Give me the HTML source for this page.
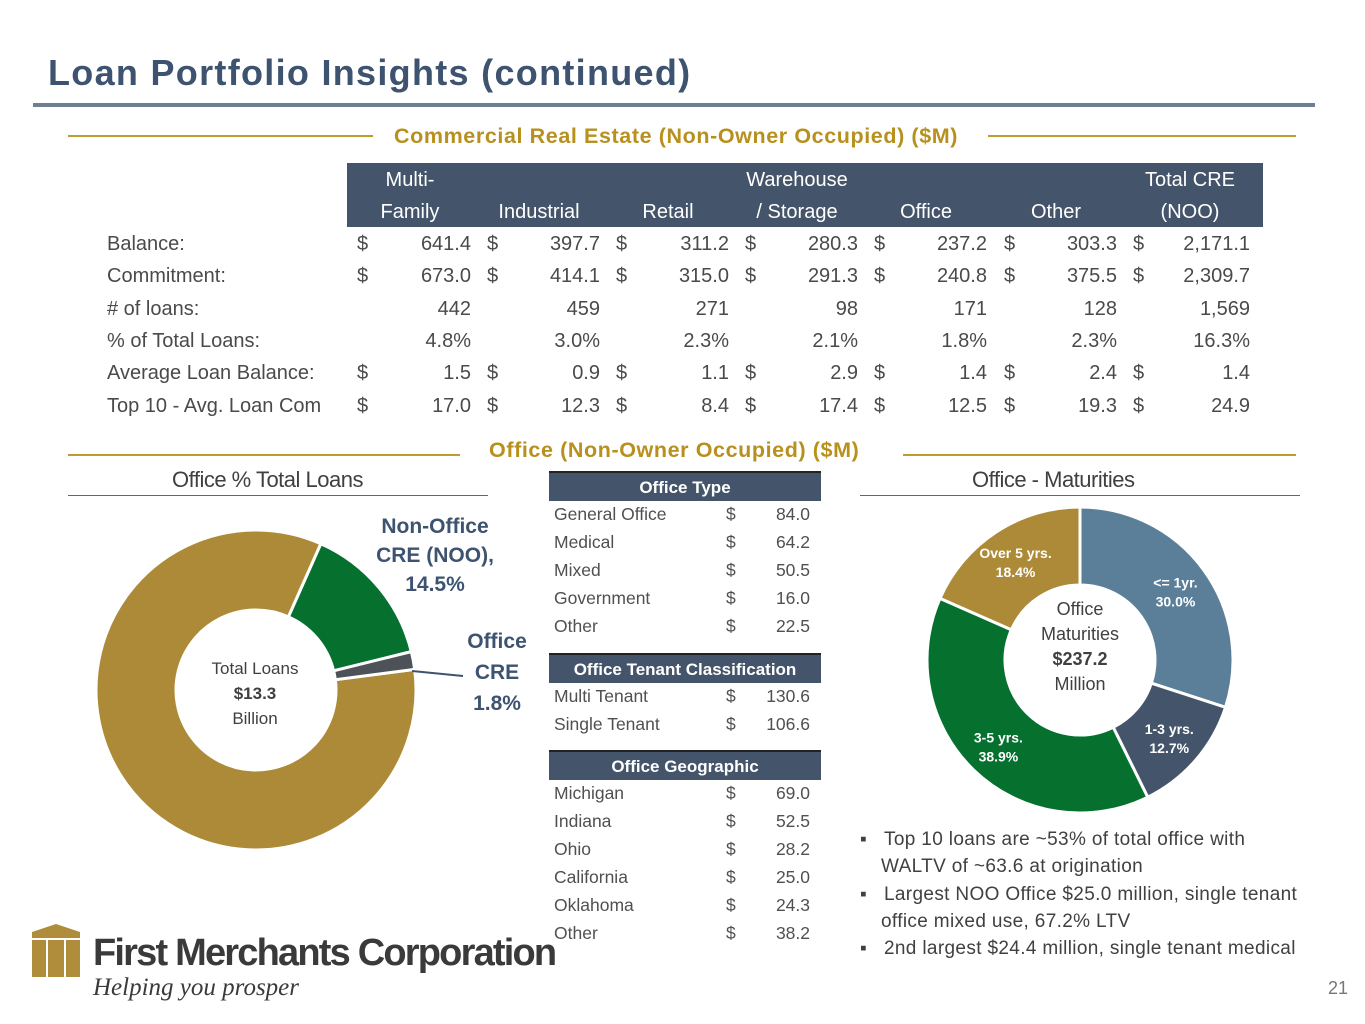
<!DOCTYPE html>
<html><head><meta charset="utf-8"><style>
body{margin:0;width:1365px;height:1024px;background:#fff;position:relative;overflow:hidden;font-family:"Liberation Sans",sans-serif;color:#404040}
.a{position:absolute;white-space:nowrap}
.t{font-size:20px;color:#4a4a4a}
.r{text-align:right}
.gl{position:absolute;height:2px;background:#bf9b30}
.hdr{position:absolute;background:#44546a;color:#fff;font-weight:bold;font-size:17px;text-align:center}
.s{font-size:17.5px;color:#505050}
</style></head><body>
<div class="a" style="left:48px;top:52px;font-size:36px;font-weight:bold;color:#3d5370;letter-spacing:1.3px">Loan Portfolio Insights (continued)</div>
<div style="position:absolute;left:33px;top:103px;width:1282px;height:4px;background:#6f7f93"></div>

<div class="gl" style="left:68px;top:135px;width:305px"></div>
<div class="gl" style="left:988px;top:135px;width:308px"></div>
<div class="a" style="left:394px;top:124px;font-size:21.5px;font-weight:bold;color:#b8901e;letter-spacing:0.6px">Commercial Real Estate (Non-Owner Occupied) ($M)</div>

<div style="position:absolute;left:347px;top:163px;width:916px;height:64px;background:#44546a"></div>
<div id="cre"></div>

<div class="gl" style="left:68px;top:454px;width:392px"></div>
<div class="gl" style="left:903px;top:454px;width:393px"></div>
<div class="a" style="left:489px;top:438px;font-size:21.5px;font-weight:bold;color:#b8901e;letter-spacing:0.6px">Office (Non-Owner Occupied) ($M)</div>

<div class="a" style="left:172px;top:467px;font-size:22px;color:#404040;letter-spacing:-0.5px">Office % Total Loans</div>
<div style="position:absolute;left:68px;top:495px;width:420px;height:1px;background:#666"></div>
<div class="a" style="left:972px;top:467px;font-size:22px;color:#404040;letter-spacing:-0.5px">Office - Maturities</div>
<div style="position:absolute;left:860px;top:495px;width:440px;height:1px;background:#666"></div>

<svg id="d1" style="position:absolute;left:0;top:0" width="1365" height="1024"></svg>

<div class="a" style="left:195px;top:656px;width:120px;text-align:center;font-size:17px;line-height:25px;color:#404040">Total Loans<br><b>$13.3</b><br>Billion</div>
<div class="a" style="left:370px;top:512px;width:130px;text-align:center;font-size:21px;font-weight:bold;line-height:29px;color:#3d5370">Non-Office<br>CRE (NOO),<br>14.5%</div>
<div class="a" style="left:462px;top:626px;width:70px;text-align:center;font-size:21px;font-weight:bold;line-height:31px;color:#3d5370">Office<br>CRE<br>1.8%</div>
<svg style="position:absolute;left:0;top:0" width="1365" height="1024"><line x1="412" y1="671" x2="463" y2="676" stroke="#3d5370" stroke-width="2"/></svg>

<div id="otab"></div>

<div class="a" style="left:1025px;top:597px;width:110px;text-align:center;font-size:18px;line-height:25px;color:#404040">Office<br>Maturities<br><b>$237.2</b><br>Million</div>

<div class="a" style="left:860px;top:826px;font-size:19px;line-height:27.3px;color:#404040;letter-spacing:0.35px">
<div>▪&nbsp;&nbsp;&nbsp;Top 10 loans are ~53% of total office with</div>
<div style="padding-left:21px">WALTV of ~63.6 at origination</div>
<div>▪&nbsp;&nbsp;&nbsp;Largest NOO Office $25.0 million, single tenant</div>
<div style="padding-left:21px">office mixed use, 67.2% LTV</div>
<div>▪&nbsp;&nbsp;&nbsp;2nd largest $24.4 million, single tenant medical</div>
</div>

<div style="position:absolute;left:28px;top:922px">
<svg width="56" height="60" style="position:absolute;left:0;top:0"><polygon points="4,10 28,2 52,10 52,16 4,16" fill="#b08d3a"/><rect x="4" y="18" width="48" height="37" fill="#b08d3a"/><rect x="18" y="18" width="2" height="37" fill="#fff"/><rect x="36" y="18" width="2" height="37" fill="#fff"/></svg>
<div class="a" style="left:65px;top:10px;font-size:38px;font-weight:bold;color:#3a3a3a;letter-spacing:-1.8px">First Merchants Corporation</div>
<div class="a" style="left:65px;top:52px;font-size:25px;font-style:italic;font-family:'Liberation Serif',serif;color:#3a3a3a">Helping you prosper</div>
</div>
<div class="a" style="left:1328px;top:978px;font-size:18px;color:#777">21</div>

<script>
const creCats=["Multi-|Family","Industrial","Retail","Warehouse|/ Storage","Office","Other","Total CRE|(NOO)"];
const creRows=["Balance:","Commitment:","# of loans:","% of Total Loans:","Average Loan Balance:","Top 10 - Avg. Loan Com"];
const creDollar=[true,true,false,false,true,true];
const creVals=[
["641.4","397.7","311.2","280.3","237.2","303.3","2,171.1"],
["673.0","414.1","315.0","291.3","240.8","375.5","2,309.7"],
["442","459","271","98","171","128","1,569"],
["4.8%","3.0%","2.3%","2.1%","1.8%","2.3%","16.3%"],
["1.5","0.9","1.1","2.9","1.4","2.4","1.4"],
["17.0","12.3","8.4","17.4","12.5","19.3","24.9"]];
const officeType=[["General Office","84.0"],["Medical","64.2"],["Mixed","50.5"],["Government","16.0"],["Other","22.5"]];
const tenant=[["Multi Tenant","130.6"],["Single Tenant","106.6"]];
const geo=[["Michigan","69.0"],["Indiana","52.5"],["Ohio","28.2"],["California","25.0"],["Oklahoma","24.3"],["Other","38.2"]];
const loanShares=[83.7,14.5,1.8];
const loanColors=["#ad8a37","#06702f","#4d5258"];
const matLabels=["<= 1yr.","1-3 yrs.","3-5 yrs.","Over 5 yrs."];
const matShares=[30.0,12.7,38.9,18.4];
const matColors=["#5b7f99","#44546a","#06702f","#ad8a37"];

const cre=document.getElementById('cre');
function add(parent,html,style,name){const d=document.createElement('div');d.className='a t';d.innerHTML=html;d.style.cssText=style;


parent.appendChild(d);return d;}
const colR=[471,600,729,858,987,1117,1250],colD=[357,487,616,745,874,1004,1133];
creCats.forEach((c,i)=>{const p=c.split('|');const cx=i==6?1190:colR[i]-61;
 if(p.length>1){add(cre,p[0],`left:${cx-80}px;width:160px;text-align:center;top:169px;color:#fff`,'column-header');}
 add(cre,p[p.length-1],`left:${cx-80}px;width:160px;text-align:center;top:201px;color:#fff`,'column-header');});
creRows.forEach((r,j)=>{const y=233+j*32.3;
 add(cre,r,`left:107px;top:${y}px`,'row-label');
 creVals[j].forEach((v,i)=>{
  if(creDollar[j])add(cre,'$',`left:${colD[i]}px;top:${y}px`,'dollar-sign');
  add(cre,v,`left:${colR[i]-100}px;width:100px;top:${y}px;text-align:right`,'cell-value');});});

const ot=document.getElementById('otab');
function block(title,rows,top,name){
 const h=document.createElement('div');h.className='hdr';h.textContent=title;
 h.style.cssText=`left:549px;top:${top}px;width:272px;height:28px;line-height:30px;border-top:2px solid #222`;
 
 
 ot.appendChild(h);
 rows.forEach((r,i)=>{const y=top+33+i*28;
  add(ot,r[0],`left:554px;top:${y}px`,name+'-row').className='a s';
  add(ot,'$',`left:726px;top:${y}px`,'dollar-sign').className='a s';
  add(ot,r[1],`left:740px;width:70px;text-align:right;top:${y}px`,'row-value').className='a s';});}
block('Office Type',officeType,471,'office-type');
block('Office Tenant Classification',tenant,653,'tenant');
block('Office Geographic',geo,750,'geographic');

const NS='http://www.w3.org/2000/svg';
function arc(cx,cy,R,r,a0,a1){const f=a=>[Math.sin(a*Math.PI/180),-Math.cos(a*Math.PI/180)];
 const [s0,c0]=f(a0),[s1,c1]=f(a1),L=a1-a0>180?1:0;
 return `M${cx+R*s0},${cy+R*c0}A${R},${R} 0 ${L} 1 ${cx+R*s1},${cy+R*c1}L${cx+r*s1},${cy+r*c1}A${r},${r} 0 ${L} 0 ${cx+r*s0},${cy+r*c0}Z`;}
function donut(svg,cx,cy,R,r,start,shares,colors,name){let a=start;const tot=shares.reduce((x,y)=>x+y,0);const mids=[];
 shares.forEach((s,i)=>{const b=a+s/tot*360;const p=document.createElementNS(NS,'path');
  p.setAttribute('d',arc(cx,cy,R,r,a,b));p.setAttribute('fill',colors[i]);p.setAttribute('stroke','#fff');p.setAttribute('stroke-width','3');
  
  
  svg.appendChild(p);mids.push((a+b)/2);a=b;});return mids;}
const sv=document.getElementById('d1');
donut(sv,256,690,160,80,82.6,loanShares,loanColors,'loans');
const mids=donut(sv,1080,660,153,75,0,matShares,matColors,'maturity');
mids.forEach((m,i)=>{const rr=118,x=1080+rr*Math.sin(m*Math.PI/180),y=660-rr*Math.cos(m*Math.PI/180);
 [matLabels[i],matShares[i].toFixed(1)+'%'].forEach((tx,k)=>{const t=document.createElementNS(NS,'text');
  t.setAttribute('x',x);t.setAttribute('y',y-3+k*19);t.setAttribute('text-anchor','middle');t.setAttribute('fill','#fff');
  t.setAttribute('font-size','14');t.setAttribute('font-weight','bold');t.setAttribute('font-family','Liberation Sans, sans-serif');
  
  
  t.textContent=tx;sv.appendChild(t);});});
</script>
</body></html>
